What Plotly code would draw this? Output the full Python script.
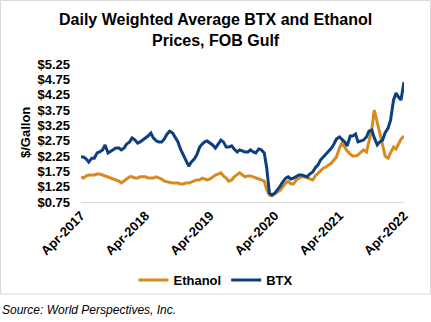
import pandas as pd
import plotly.graph_objects as go

# Semi-monthly observation dates, Apr-2017 .. Apr-2022
dates = pd.date_range("2017-04-01", periods=121, freq="SMS")

# Daily weighted average prices, $/gallon, FOB Gulf
btx = [
    2.22, 2.22, 2.15, 2.05, 2.18, 2.18, 2.35, 2.38, 2.45, 2.61,
    2.35, 2.41, 2.48, 2.51, 2.51, 2.45, 2.51, 2.64, 2.71, 2.84,
    2.77, 2.67, 2.71, 2.77, 2.87, 2.90, 3.00, 2.84, 2.74, 2.71,
    2.71, 2.80, 2.97, 3.06, 3.00, 2.87, 2.71, 2.48, 2.28, 2.12,
    1.92, 2.05, 2.15, 2.28, 2.54, 2.64, 2.71, 2.74, 2.67, 2.61,
    2.51, 2.61, 2.77, 2.71, 2.54, 2.54, 2.58, 2.48, 2.38, 2.45,
    2.41, 2.38, 2.38, 2.45, 2.38, 2.35, 2.48, 2.45, 2.35, 1.86,
    1.04, 0.98, 1.04, 1.14, 1.27, 1.40, 1.53, 1.57, 1.50, 1.53,
    1.60, 1.63, 1.63, 1.60, 1.57, 1.66, 1.73, 1.86, 1.96, 2.12,
    2.22, 2.32, 2.41, 2.51, 2.64, 2.80, 2.87, 2.80, 2.71, 2.58,
    2.90, 2.90, 2.97, 2.71, 2.74, 2.77, 2.87, 3.06, 3.10, 2.84,
    2.61, 2.71, 2.77, 3.00, 3.16, 3.42, 4.08, 4.30, 4.17, 4.08,
    4.66,
]
ethanol = [
    1.57, 1.53, 1.60, 1.63, 1.63, 1.63, 1.66, 1.66, 1.63, 1.60,
    1.57, 1.53, 1.50, 1.47, 1.43, 1.37, 1.43, 1.50, 1.57, 1.57,
    1.53, 1.53, 1.57, 1.57, 1.57, 1.53, 1.53, 1.53, 1.57, 1.53,
    1.50, 1.43, 1.40, 1.40, 1.37, 1.37, 1.37, 1.34, 1.34, 1.37,
    1.37, 1.40, 1.43, 1.47, 1.47, 1.53, 1.50, 1.47, 1.50, 1.57,
    1.63, 1.66, 1.70, 1.60, 1.53, 1.43, 1.47, 1.57, 1.63, 1.70,
    1.63, 1.57, 1.60, 1.60, 1.57, 1.53, 1.50, 1.47, 1.43, 1.14,
    0.98, 0.95, 1.01, 1.08, 1.14, 1.24, 1.37, 1.43, 1.34, 1.34,
    1.47, 1.53, 1.57, 1.57, 1.53, 1.50, 1.47, 1.60, 1.70, 1.76,
    1.86, 1.89, 1.96, 2.02, 2.12, 2.22, 2.51, 2.67, 2.54, 2.41,
    2.31, 2.25, 2.25, 2.28, 2.38, 2.45, 2.38, 2.77, 3.13, 3.75,
    3.36, 3.00, 2.61, 2.25, 2.18, 2.35, 2.54, 2.48, 2.67, 2.80,
    2.90,
]

y_ticks = [0.75, 1.25, 1.75, 2.25, 2.75, 3.25, 3.75, 4.25, 4.75, 5.25]
x_ticks = ["2017-04-01", "2018-04-01", "2019-04-01",
           "2020-04-01", "2021-04-01", "2022-04-01"]

ORANGE = "#D98A1F"
NAVY = "#0C3F80"
FONT = "Liberation Sans, Arial, sans-serif"

W, H = 431, 322
ML, MR, MT, MB = 81, 27, 64, 120
PW, PH = W - ML - MR, H - MT - MB


def px_x(p):
    return (p - ML) / PW


def px_y(p):
    return (H - MB - p) / PH


fig = go.Figure()
fig.add_trace(go.Scatter(x=dates, y=ethanol, name="Ethanol", mode="lines",
                         line=dict(color=ORANGE, width=3)))
fig.add_trace(go.Scatter(x=dates, y=btx, name="BTX", mode="lines",
                         line=dict(color=NAVY, width=3)))

fig.update_layout(
    width=W, height=H,
    margin=dict(l=ML, r=MR, t=MT, b=MB),
    paper_bgcolor="white", plot_bgcolor="white",
    font=dict(family=FONT, color="black"),
    showlegend=True,
    legend=dict(
        orientation="h", x=px_x(216), xanchor="center",
        y=px_y(280), yanchor="middle",
        font=dict(size=13, color="black", weight="bold"),
        bgcolor="rgba(0,0,0,0)",
    ),
    xaxis=dict(
        type="date",
        range=["2017-04-01", "2022-04-01"],
        tickvals=x_ticks, tickformat="%b-%Y", tickangle=-45,
        tickfont=dict(size=13, weight="bold"),
        showgrid=False, zeroline=False,
        showline=True, linecolor="#D9D9D9", linewidth=1,
        ticks="",
    ),
    yaxis=dict(
        range=[0.75, 5.25],
        tickvals=y_ticks, tickformat="$.2f",
        tickfont=dict(size=13, weight="bold"),
        showgrid=False, zeroline=False, showline=False,
        ticks="", ticklabelstandoff=10,
    ),
    annotations=[
        dict(text="<b>Daily Weighted Average BTX and Ethanol<br>Prices, FOB Gulf</b>",
             x=px_x(215.5), y=px_y(9), xref="paper", yref="paper",
             xanchor="center", yanchor="top", showarrow=False,
             font=dict(size=16, color="black")),
        dict(text="<b>$/Gallon</b>", textangle=-90,
             x=px_x(25), y=px_y(133), xref="paper", yref="paper",
             xanchor="center", yanchor="middle", showarrow=False,
             font=dict(size=13, color="black")),
        dict(text="<i>Source: World Perspectives, Inc.</i>",
             x=px_x(0), y=px_y(310), xref="paper", yref="paper",
             xanchor="left", yanchor="middle", showarrow=False,
             font=dict(size=12, color="black")),
    ],
    shapes=[
        dict(type="rect", xref="paper", yref="paper",
             x0=px_x(0.5), x1=px_x(430.5), y0=px_y(294), y1=px_y(0.5),
             line=dict(color="#D9D9D9", width=1), fillcolor="rgba(0,0,0,0)",
             layer="above"),
    ],
)

fig.write_html("out.html")
